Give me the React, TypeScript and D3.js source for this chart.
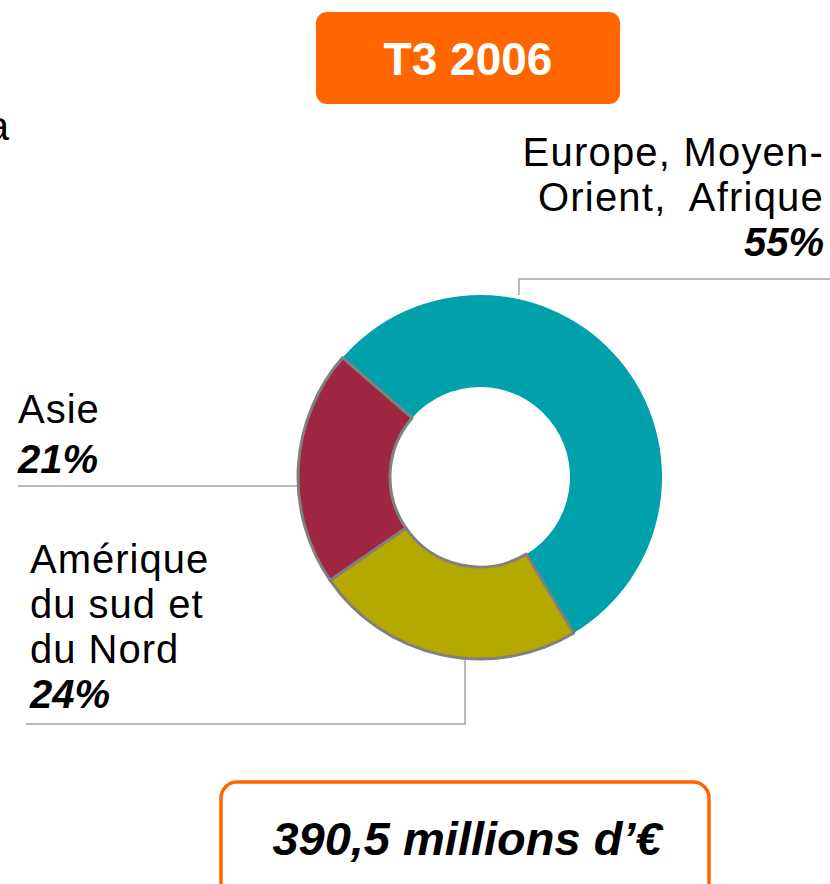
import React from "react";
import * as d3 from "d3";

const regions = ["Europe, Moyen-Orient, Afrique", "Amérique du sud et du Nord", "Asie"];
const shares = [55, 24, 21];
const colors = ["#00A1AB", "#B5A900", "#9E2640"];
const title = "T3 2006";
const total = "390,5 millions d’€";

const W = 830, H = 884;
const cx = 480, cy = 477, R = 182, r = 90;
const FONT = "'Liberation Sans', Arial, Helvetica, sans-serif";

export default function App() {
  const pie = d3.pie<number>().sort(null).value((d) => d)
    .startAngle((-49 * Math.PI) / 180)
    .endAngle((311 * Math.PI) / 180);
  const arcs = pie(shares);
  const arc = d3.arc<d3.PieArcDatum<number>>().innerRadius(r).outerRadius(R);
  const lineColor = "#A0A3A8";
  const fs = 40;
  return (
    <svg width={W} height={H} style={{ position: "absolute", left: 0, top: 0, background: "#fff" }}>
      {/* cut-off text at left, as in the reference */}
      <text x={9} y={140} textAnchor="end" fontFamily={FONT} fontSize={fs} fill="#000">a</text>

      {/* title box */}
      <rect x={316} y={12} width={304} height={92} rx={11} fill="#FF6600" />
      <text x={468} y={75} textAnchor="middle" fontFamily={FONT} fontWeight="bold" fontSize={46} fill="#fff">{title}</text>

      {/* leader lines */}
      <polyline points={`519,295 519,279 830,279`} fill="none" stroke={lineColor} strokeWidth={1.5} />
      <polyline points={`18,486 298,486`} fill="none" stroke={lineColor} strokeWidth={1.5} />
      <polyline points={`465,660 465,724 26,724`} fill="none" stroke={lineColor} strokeWidth={1.5} />

      {/* donut */}
      <g transform={`translate(${cx},${cy})`}>
        {arcs.map((a, i) => (
          <path key={regions[i]} d={arc(a) || ""} fill={colors[i]}
            stroke={i === 0 ? "none" : "#808080"} strokeWidth={i === 0 ? 0 : 3} strokeLinejoin="round" />
        ))}
      </g>

      {/* Europe label */}
      <g fontFamily={FONT} fontSize={fs} fill="#000" textAnchor="end">
        <text x={824} y={166} letterSpacing={1.2}>Europe, Moyen-</text>
        <text x={824} y={211} letterSpacing={1.2} style={{ whiteSpace: "pre" }}>{"Orient,  Afrique"}</text>
        <text x={824} y={256} fontWeight="bold" fontStyle="italic">{shares[0]}%</text>
      </g>

      {/* Asie label */}
      <g fontFamily={FONT} fontSize={fs} fill="#000">
        <text x={18} y={423} letterSpacing={1}>Asie</text>
        <text x={18} y={473} fontWeight="bold" fontStyle="italic">{shares[2]}%</text>
      </g>

      {/* Amérique label */}
      <g fontFamily={FONT} fontSize={fs} fill="#000">
        <text x={30} y={573} letterSpacing={1}>Amérique</text>
        <text x={30} y={618} letterSpacing={1}>du sud et</text>
        <text x={30} y={663} letterSpacing={1}>du Nord</text>
        <text x={30} y={708} fontWeight="bold" fontStyle="italic">{shares[1]}%</text>
      </g>

      {/* total box */}
      <rect x={221} y={782} width={488} height={120} rx={16} fill="#fff" stroke="#FF6600" strokeWidth={3.5} />
      <text x={467} y={855} textAnchor="middle" fontFamily={FONT} fontWeight="bold" fontStyle="italic" fontSize={47} fill="#000">{total}</text>
    </svg>
  );
}
